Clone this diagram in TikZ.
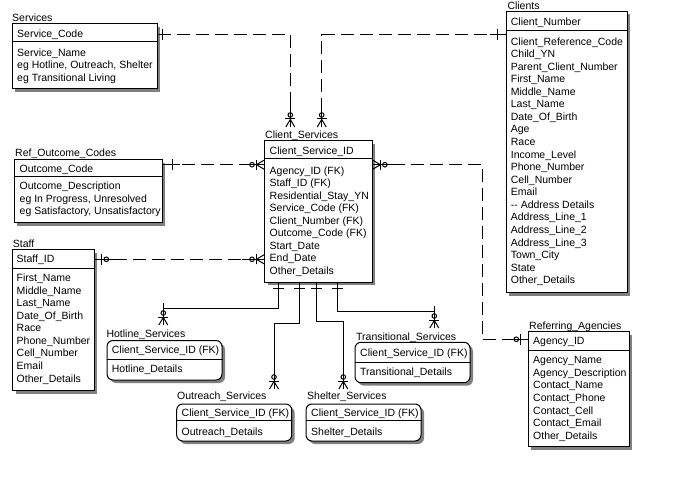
\documentclass[tikz,border=0pt]{standalone}
\usepackage{fontspec}
\setmainfont{Liberation Sans}
\usetikzlibrary{shadows,calc}
\tikzset{
 ebox/.style={draw, fill=white, line width=1pt, inner sep=0pt,
   drop shadow={shadow xshift=3pt, shadow yshift=-3pt, fill=black!50, opacity=1}},
 rbox/.style={ebox, rounded corners=6pt},
 sepline/.style={line width=1pt},
 txt/.style={anchor=west, inner sep=0pt, text height=7.5pt, text depth=0pt, font=\fontsize{10.5}{12}\selectfont},
 rel/.style={line width=1pt, dash pattern=on 13pt off 6pt},
 sub/.style={line width=1pt},
 sym/.style={line width=1pt},
 onebar/.pic={\draw[sym] (0,0)--(0,-#1-8); \draw[sym] (-5.5,-#1)--(5.5,-#1);},
 zmany/.pic={\draw[sym] (0,-22)--(0,0); \draw[sym] (0,-12) circle (2.3);
   \draw[sym] (-5,-8)--(5,-8); \draw[sym] (-4.5,0)--(0,-7.5)--(4.5,0);},
 zone/.pic={\draw[sym] (0,0)--(0,-20); \draw[sym] (-5.5,-7)--(5.5,-7); \draw[sym] (0,-11.5) circle (2.3);}
}
\begin{document}
\begin{tikzpicture}[x=1pt,y=-1pt]
\useasboundingbox[fill=white] (0,0) rectangle (699,481);

% ---------- entity boxes ----------
\node[ebox, minimum width=145pt, minimum height=65pt] (svc) at (84.5,56.5) {};
\node[ebox, minimum width=121pt, minimum height=281pt] (cl) at (566.5,152) {};
\node[ebox, minimum width=107.8pt, minimum height=141.6pt] (cs) at (318.4,211.5) {};
\node[ebox, minimum width=148pt, minimum height=62.7pt] (ref) at (88.3,191.35) {};
\node[ebox, minimum width=81.6pt, minimum height=140.7pt] (stf) at (53.5,320.35) {};
\node[rbox, minimum width=115pt, minimum height=39.5pt] (hot) at (164.5,360.25) {};
\node[rbox, minimum width=115pt, minimum height=40.4pt] (tra) at (412.5,362.5) {};
\node[rbox, minimum width=115pt, minimum height=37pt] (out) at (234.2,422.5) {};
\node[rbox, minimum width=115pt, minimum height=37pt] (shl) at (363.5,422.5) {};
\node[ebox, minimum width=101pt, minimum height=115pt] (ra) at (578.8,389.2) {};

% separators
\draw[sepline] (svc.west |- 0,42) -- (svc.east |- 0,42);
\draw[sepline] (cl.west |- 0,30.3) -- (cl.east |- 0,30.3);
\draw[sepline] (cs.west |- 0,159) -- (cs.east |- 0,159);
\draw[sepline] (ref.west |- 0,177) -- (ref.east |- 0,177);
\draw[sepline] (stf.west |- 0,268.3) -- (stf.east |- 0,268.3);
\draw[sepline] (hot.west |- 0,359) -- (hot.east |- 0,359);
\draw[sepline] (tra.west |- 0,362) -- (tra.east |- 0,362);
\draw[sepline] (out.west |- 0,420) -- (out.east |- 0,420);
\draw[sepline] (shl.west |- 0,420) -- (shl.east |- 0,420);
\draw[sepline] (ra.west |- 0,350) -- (ra.east |- 0,350);

% ---------- labels ----------
\node[txt] (svc-l) at (12,17.7) {Services};
\node[txt] (cl-l) at (507.3,6) {Clients};
\node[txt] (cs-l) at (265,134.7) {Client\_Services};
\node[txt] (ref-l) at (15,152.3) {Ref\_Outcome\_Codes};
\node[txt] (stf-l) at (12.7,243.5) {Staff};
\node[txt] (hot-l) at (106.3,333.7) {Hotline\_Services};
\node[txt] (tra-l) at (356,336.7) {Transitional\_Services};
\node[txt] (out-l) at (177,396) {Outreach\_Services};
\node[txt] (shl-l) at (307,396) {Shelter\_Services};
\node[txt] (ra-l) at (529,325.7) {Referring\_Agencies};

% ---------- headers ----------
\node[txt] (svc-h) at (17,33.3) {Service\_Code};
\node[txt] (cl-h) at (510.7,21.5) {Client\_Number};
\node[txt] (cs-h) at (269.5,150.5) {Client\_Service\_ID};
\node[txt] (ref-h) at (19.5,168.7) {Outcome\_Code};
\node[txt] (stf-h) at (16.5,259.2) {Staff\_ID};
\node[txt] (hot-h) at (111.7,349.5) {Client\_Service\_ID (FK)};
\node[txt] (tra-h) at (360,352.3) {Client\_Service\_ID (FK)};
\node[txt] (out-h) at (181.5,412.5) {Client\_Service\_ID (FK)};
\node[txt] (shl-h) at (311,412.5) {Client\_Service\_ID (FK)};
\node[txt] (ra-h) at (533,340.7) {Agency\_ID};

% ---------- attribute rows ----------
\foreach \t [count=\i] in {Service\_Name, {eg Hotline, Outreach, Shelter}, {eg Transitional Living}}
  \node[txt] (svc-r\i) at (17,{52.3+12.6*(\i-1)}) {\t};
\foreach \t [count=\i] in {Client\_Reference\_Code, Child\_YN, Parent\_Client\_Number, First\_Name,
  Middle\_Name, Last\_Name, Date\_Of\_Birth, Age, Race, Income\_Level, Phone\_Number, Cell\_Number,
  Email, -\kern0pt- Address Details, Address\_Line\_1, Address\_Line\_2, Address\_Line\_3,
  Town\_City, State, Other\_Details}
  \node[txt] (cl-r\i) at (510.7,{41.3+12.56*(\i-1)}) {\t};
\foreach \t [count=\i] in {Agency\_ID (FK), Staff\_ID (FK), Residential\_Stay\_YN, Service\_Code (FK),
  Client\_Number (FK), Outcome\_Code (FK), Start\_Date, End\_Date, Other\_Details}
  \node[txt] (cs-r\i) at (269.5,{170.3+12.55*(\i-1)}) {\t};
\foreach \t [count=\i] in {Outcome\_Description, {eg In Progress, Unresolved}, {eg Satisfactory, Unsatisfactory}}
  \node[txt] (ref-r\i) at (19.5,{186+12.6*(\i-1)}) {\t};
\foreach \t [count=\i] in {First\_Name, Middle\_Name, Last\_Name, Date\_Of\_Birth, Race,
  Phone\_Number, Cell\_Number, Email, Other\_Details}
  \node[txt] (stf-r\i) at (16.5,{277.7+12.58*(\i-1)}) {\t};
\foreach \t [count=\i] in {Agency\_Name, Agency\_Description, Contact\_Name, Contact\_Phone,
  Contact\_Cell, Contact\_Email, Other\_Details}
  \node[txt] (ra-r\i) at (533,{360+12.6*(\i-1)}) {\t};
\node[txt] (hot-r1) at (111.7,368.6) {Hotline\_Details};
\node[txt] (tra-r1) at (360,371.8) {Transitional\_Details};
\node[txt] (out-r1) at (181.5,431.5) {Outreach\_Details};
\node[txt] (shl-r1) at (311,431.5) {Shelter\_Details};

% ---------- relationships (dashed) ----------
\coordinate (c1e) at (290.3,127);
\coordinate (c2e) at (321.7,127);
\coordinate (c5k) at (482.3,339.3);
\draw[rel] (svc.east |- 0,34.7) -| (c1e);
\draw[rel] (cl.west |- 0,34.7) -| (c2e);
\draw[rel] (ref.east |- 0,164.7) -- (cs.west |- 0,164.7);
\draw[rel] (stf.east |- 0,259.3) -- (cs.west |- 0,259.3);
\draw[rel] (cs.east |- 0,164.7) -| (c5k) -- (ra.west |- 0,339.3);

\pic[rotate=-90] at (svc.east |- 0,34.7) {onebar=4.7};
\pic[rotate=90] at (cl.west |- 0,34.7) {onebar=7.7};
\pic[rotate=-90] at (ref.east |- 0,164.7) {onebar=9.4};
\pic at (c1e) {zmany};
\pic at (c2e) {zmany};
\pic[rotate=90] at (cs.west |- 0,164.7) {zmany};
\pic[rotate=90] at (cs.west |- 0,259.3) {zmany};
\pic[rotate=-90] at (cs.east |- 0,164.7) {zmany};
\pic[rotate=-90] at (stf.east |- 0,259.3) {zone};
\pic[rotate=90] at (ra.west |- 0,339.3) {zone};

% ---------- subtype links (solid) ----------
\coordinate (s1k) at (163.3,308.3); \coordinate (s1e) at (163.3,325);
\coordinate (s2k) at (274,323.3);   \coordinate (s2e) at (274,389);
\coordinate (s3k) at (343.3,321.7); \coordinate (s3e) at (343.3,389);
\coordinate (s4k) at (434.3,311.7); \coordinate (s4e) at (434.3,328);
\draw[sub] (cs.south -| 278.3,0) |- (s1k) -- (s1e);
\draw[sub] (cs.south -| 299.7,0) |- (s2k) -- (s2e);
\draw[sub] (cs.south -| 316.3,0) |- (s3k) -- (s3e);
\draw[sub] (cs.south -| 337,0) |- (s4k) -- (s4e);
\foreach \xx in {278.3,299.7,316.3,337}
  \pic[rotate=180] at (cs.south -| \xx,0) {onebar=5.5};
\pic at (s1e) {zmany};
\pic at (s2e) {zmany};
\pic at (s3e) {zmany};
\pic at (s4e) {zmany};
\end{tikzpicture}
\end{document}
